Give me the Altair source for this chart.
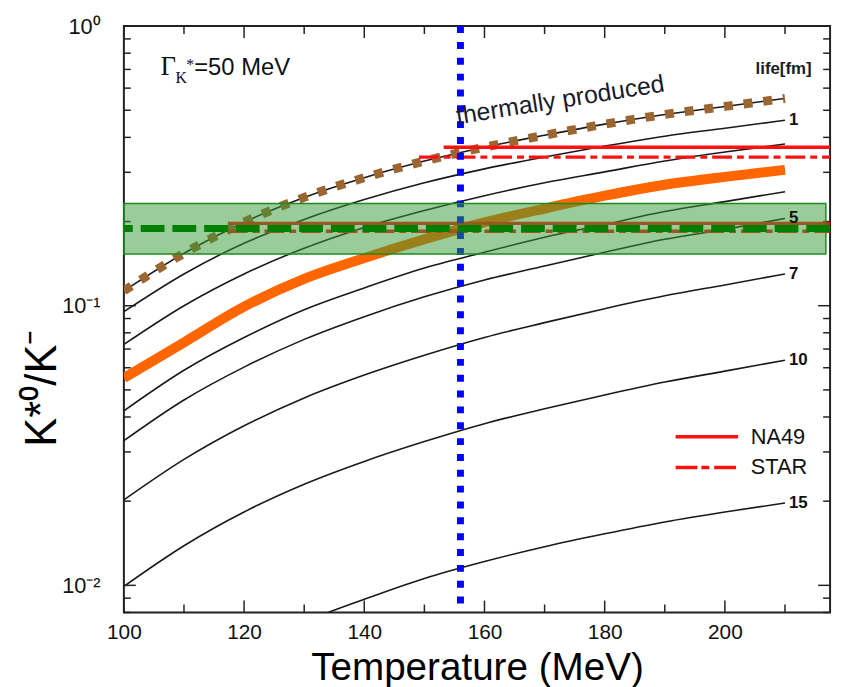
import altair as alt
import pandas as pd

# ---------------- data ----------------
T_GRID = [100, 110, 120, 130, 140, 150, 160, 170, 180, 190, 200, 210]

# thermal ratio (life 0) - also the brown dotted "thermally produced" curve
THERMAL = [0.113, 0.154, 0.199, 0.244, 0.287, 0.329, 0.369, 0.407, 0.446, 0.483, 0.516, 0.551]
LIFE_1 = [0.0952, 0.1299, 0.1673, 0.2035, 0.2396, 0.2752, 0.3086, 0.3403, 0.3723, 0.4040, 0.4313, 0.4604]
LIFE_2 = [0.0727, 0.1000, 0.1299, 0.1606, 0.1906, 0.2190, 0.2475, 0.2753, 0.3011, 0.3294, 0.3545, 0.3785]
LIFE_4 = [0.0421, 0.0588, 0.0770, 0.0968, 0.1158, 0.1364, 0.1554, 0.1757, 0.1953, 0.2172, 0.2357, 0.2557]
LIFE_5 = [0.0329, 0.0460, 0.0603, 0.0758, 0.0914, 0.1076, 0.1236, 0.1386, 0.1554, 0.1728, 0.1875, 0.2052]
LIFE_7 = [0.0202, 0.0282, 0.0372, 0.0468, 0.0565, 0.0665, 0.0770, 0.0870, 0.0976, 0.1085, 0.1187, 0.1299]
LIFE_10 = [0.00992, 0.01386, 0.01830, 0.02300, 0.02775, 0.03267, 0.03785, 0.04278, 0.04796, 0.05333, 0.05835, 0.06382]
LIFE_15 = [0.00311, 0.00438, 0.00583, 0.00739, 0.00892, 0.01059, 0.01217, 0.01375, 0.01529, 0.01686, 0.01830, 0.01969]
# thick orange curve
ORANGE = [0.0551, 0.0739, 0.0992, 0.1247, 0.1480, 0.1728, 0.1986, 0.2226, 0.2474, 0.2708, 0.2891, 0.3060]

CURVES = {"0": THERMAL, "1": LIFE_1, "2": LIFE_2, "4": LIFE_4, "5": LIFE_5,
          "7": LIFE_7, "10": LIFE_10, "15": LIFE_15}
LABELLED = ["1", "5", "7", "10", "15"]

# horizontal reference values
BAND = [0.153, 0.232]          # green band
BAND_T = [100, 216.8]
MEASURED = 0.189               # green dashed line
NA49 = [0.369, 0.197]          # red solid lines
NA49_FROM = [153.2, 117.3]
STAR = [0.340, 0.1845]         # red dash-dot lines
STAR_FROM = [149.1, 117.3]
T_CHEM = 156                   # blue dotted vertical line

X_MAJOR = [100, 120, 140, 160, 180, 200]
X_MINOR = [110, 130, 150, 170, 190, 210]
Y_MAJOR = [0.01, 0.1, 1]
Y_MINOR = [0.008, 0.009, 0.02, 0.03, 0.04, 0.05, 0.06, 0.07, 0.08, 0.09,
           0.2, 0.3, 0.4, 0.5, 0.6, 0.7, 0.8, 0.9]

# ---------------- layout / style ----------------
W, H = 713, 592
FONT = "Liberation Sans"
SERIF = "Liberation Serif"
T_MAX = 217.5

x_scale = alt.Scale(domain=[100, T_MAX], nice=False, zero=False)
y_scale = alt.Scale(type="log", domain=[0.008, 1], nice=False)

x_axis = alt.Axis(values=X_MAJOR, ticks=False, domain=False, grid=False,
                  labelFont=FONT, labelFontSize=21, labelPadding=9, labelColor="#111",
                  labelFlush=False, labelOverlap=False,
                  title="Temperature (MeV)", titleFont=FONT, titleFontSize=39,
                  titleFontWeight="normal", titleColor="black",
                  titleX=W / 2, titleY=68, titleAlign="center", titleBaseline="alphabetic")
y_axis = alt.Axis(values=Y_MAJOR, ticks=False, domain=False, grid=False,
                  labelExpr="datum.value >= 1 ? '10⁰' : (datum.value >= 0.1 ? '10⁻¹' : '10⁻²')",
                  labelFont=FONT, labelFontSize=22, labelPadding=24, labelColor="#111",
                  labelFlush=False, labelOverlap=False,
                  title="K*⁰/K⁻", titleFont=FONT, titleFontSize=44,
                  titleFontWeight="normal", titleColor="black",
                  titleX=-82, titleY=365, titleAngle=270, titleAlign="center",
                  titleBaseline="middle")


def xq(field):
    return alt.X(field, type="quantitative", scale=x_scale, axis=x_axis)


def yq(field):
    return alt.Y(field, type="quantitative", scale=y_scale, axis=y_axis)


rows = [{"life": k, "T": t, "R": r} for k, vals in CURVES.items() for t, r in zip(T_GRID, vals)]
black_df = pd.DataFrame(rows)

black = alt.Chart(black_df).mark_line(
    color="#1a1a1a", strokeWidth=1.6, clip=True, interpolate="monotone"
).encode(x=xq("T"), y=yq("R"), detail="life:N")

orange = alt.Chart(pd.DataFrame({"T": T_GRID, "R": ORANGE})).mark_line(
    color="#FF6600", strokeWidth=10, clip=True, interpolate="monotone", strokeCap="butt"
).encode(x=xq("T"), y=yq("R"))

brown = alt.Chart(pd.DataFrame({"T": T_GRID, "R": THERMAL})).mark_line(
    color="#9C6633", strokeWidth=9, strokeDash=[9, 11], clip=True,
    interpolate="monotone", strokeCap="butt"
).encode(x=xq("T"), y=yq("R"))

na49 = alt.Chart(pd.DataFrame({"T0": NA49_FROM, "T1": [T_MAX, T_MAX], "R": NA49})).mark_rule(
    color="#FF1010", strokeWidth=3.5
).encode(x=xq("T0"), x2="T1", y=yq("R"))

star = alt.Chart(pd.DataFrame({"T0": STAR_FROM, "T1": [T_MAX, T_MAX], "R": STAR})).mark_rule(
    color="#FF1010", strokeWidth=3.5, strokeDash=[20, 5, 7, 5]
).encode(x=xq("T0"), x2="T1", y=yq("R"))

blue = alt.Chart(pd.DataFrame({"T": [T_CHEM]})).mark_rule(
    color="#0000FF", strokeWidth=7, strokeDash=[7, 9]
).encode(x=xq("T"))

band = alt.Chart(pd.DataFrame({"T0": [BAND_T[0]], "T1": [BAND_T[1]],
                               "R0": [BAND[0]], "R1": [BAND[1]]})).mark_rect(
    fill="#339933", fillOpacity=0.5, stroke="#1f8a1f", strokeWidth=1.5
).encode(x=xq("T0"), x2="T1", y=yq("R0"), y2="R1")

green_dash = alt.Chart(pd.DataFrame({"R": [MEASURED]})).mark_rule(
    color="#008000", strokeWidth=7, strokeDash=[24, 8]
).encode(y=yq("R"))

# curve labels at the right end
lab_df = pd.DataFrame({"T": [T_GRID[-1]] * len(LABELLED),
                       "R": [CURVES[k][-1] for k in LABELLED],
                       "text": LABELLED})
curve_labels = alt.Chart(lab_df).mark_text(
    align="left", baseline="middle", dx=4, font=FONT, fontSize=17, fontWeight="bold", color="#111"
).encode(x=xq("T"), y=yq("R"), text="text:N")

# annotations
one = pd.DataFrame({"a": [0]})


def note(text, T, R, **kw):
    return alt.Chart(one).mark_text(text=text, **kw).encode(
        x=alt.XDatum(T, scale=x_scale, axis=x_axis), y=alt.YDatum(R, scale=y_scale, axis=y_axis))


GAMMA_T, GAMMA_R = 106.1, 0.670
gamma = note("Γ", GAMMA_T, GAMMA_R, align="left", baseline="alphabetic",
             font=SERIF, fontSize=27, color="#111")
gamma_k = note("K", GAMMA_T, GAMMA_R, align="left", baseline="alphabetic", dx=15, dy=8,
               font=SERIF, fontSize=16, color="#111")
gamma_star = note("*", GAMMA_T, GAMMA_R, align="left", baseline="alphabetic", dx=26, dy=-5,
                  font=SERIF, fontSize=16, color="#111")
gamma_val = note("=50 MeV", GAMMA_T, GAMMA_R, align="left", baseline="alphabetic", dx=34,
                 font=FONT, fontSize=24, color="#111")

thermal_txt = note("thermally produced", 155.5, 0.4456, align="left", baseline="alphabetic",
                   angle=351, font=FONT, fontSize=25, color="#1a1a2a")
life_txt = note("life[fm]", 205.1, 0.676, align="left", baseline="alphabetic",
                font=FONT, fontSize=17, fontWeight="bold", color="#1a1a2a")

# legend
LEG_T = [191.8, 202.2]
LEG_TXT_T = 204.3
LEG_R = [0.0340, 0.0264]
leg_na49 = alt.Chart(pd.DataFrame({"T0": [LEG_T[0]], "T1": [LEG_T[1]], "R": [LEG_R[0]]})).mark_rule(
    color="#FF1010", strokeWidth=3.5).encode(x=xq("T0"), x2="T1", y=yq("R"))
leg_star = alt.Chart(pd.DataFrame({"T0": [LEG_T[0]], "T1": [LEG_T[1]], "R": [LEG_R[1]]})).mark_rule(
    color="#FF1010", strokeWidth=3.5, strokeDash=[22, 4, 8, 5]).encode(x=xq("T0"), x2="T1", y=yq("R"))
leg_text = alt.Chart(pd.DataFrame({"T": [LEG_TXT_T, LEG_TXT_T], "R": LEG_R,
                                   "text": ["NA49", "STAR"]})).mark_text(
    align="left", baseline="middle", font=FONT, fontSize=22, color="#111"
).encode(x=xq("T"), y=yq("R"), text="text:N")

# inward ticks on all four sides
FRAME = "#222222"


def yticks(vals, length):
    d = pd.DataFrame({"R": vals})
    left = alt.Chart(d).mark_rule(color=FRAME, strokeWidth=1.5).encode(
        y=yq("R"), x=alt.value(0), x2=alt.value(length))
    right = alt.Chart(d).mark_rule(color=FRAME, strokeWidth=1.5).encode(
        y=yq("R"), x=alt.value(W), x2=alt.value(W - length))
    return [left, right]


def xticks(vals, length):
    d = pd.DataFrame({"T": vals})
    bottom = alt.Chart(d).mark_rule(color=FRAME, strokeWidth=1.5).encode(
        x=xq("T"), y=alt.value(H), y2=alt.value(H - length))
    top = alt.Chart(d).mark_rule(color=FRAME, strokeWidth=1.5).encode(
        x=xq("T"), y=alt.value(0), y2=alt.value(length))
    return [bottom, top]


ticks = yticks(Y_MAJOR, 12) + yticks(Y_MINOR, 7) + xticks(X_MAJOR, 12) + xticks(X_MINOR, 8)

chart = alt.layer(
    black, *ticks, orange, brown, na49, star, blue, band, green_dash,
    curve_labels, gamma, gamma_k, gamma_star, gamma_val, thermal_txt, life_txt,
    leg_na49, leg_star, leg_text,
).properties(
    width=W, height=H,
    autosize=alt.AutoSizeParams(type="none"),
    padding={"left": 117, "top": 15, "right": 7, "bottom": 72},
).configure_view(stroke=FRAME, strokeWidth=2)

chart.save("out.html", embed_options={"renderer": "svg", "actions": False})
